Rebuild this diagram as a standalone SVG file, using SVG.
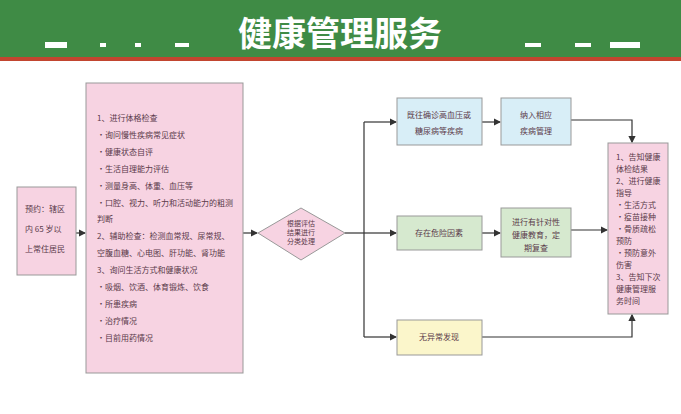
<svg xmlns="http://www.w3.org/2000/svg" width="681" height="414" viewBox="0 0 681 414">
<style>
text{font-family:"Noto Sans CJK SC","Liberation Sans",sans-serif;fill:#5a3a4a;font-size:8px}
.d{font-size:7px}
.b{stroke:#999;stroke-width:1}
.c{fill:none;stroke:#333;stroke-width:1.2}
.pink{fill:#f7d3e2}.blue{fill:#d8eef7}.green{fill:#d6e9cf}.yellow{fill:#fbf6cb}
</style>
<defs><marker id="a" markerWidth="6" markerHeight="6" refX="5" refY="3" orient="auto"><path d="M0,0 L6,3 L0,6z" fill="#333"/></marker></defs>
<rect width="681" height="414" fill="#fff"/>
<rect width="681" height="57" fill="#3f8b45"/>
<rect y="57" width="681" height="4" fill="#c2452f"/>
<text x="340" y="46" text-anchor="middle" style="fill:#fff;font-size:34px;font-weight:bold">健康管理服务</text>
<g fill="#fff"><rect x="45" y="42" width="22" height="6"/><rect x="100" y="43" width="6" height="4"/><rect x="135" y="43" width="6" height="4"/><rect x="175" y="43" width="14" height="4"/><rect x="525" y="43" width="16" height="4"/><rect x="575" y="43" width="16" height="4"/><rect x="610" y="42" width="30" height="6"/></g>
<g id="connectors">
<path class="c" d="M76,233 H85" marker-end="url(#a)"/>
<path class="c" d="M243,233 H257" marker-end="url(#a)"/>
<path class="c" d="M345,233 H364"/>
<path class="c" d="M364,122 V337"/>
<path class="c" d="M364,122 H396" marker-end="url(#a)"/>
<path class="c" d="M364,233 H396" marker-end="url(#a)"/>
<path class="c" d="M364,337 H396" marker-end="url(#a)"/>
<path class="c" d="M482,122 H500" marker-end="url(#a)"/>
<path class="c" d="M482,233 H500" marker-end="url(#a)"/>
<path class="c" d="M571,120 H632 V142" marker-end="url(#a)"/>
<path class="c" d="M571,230 H607" marker-end="url(#a)"/>
<path class="c" d="M482,337 H632 V315" marker-end="url(#a)"/>
</g>
<g id="start"><rect class="b pink" x="17" y="187" width="59" height="88"/>
<text x="25" y="212">预约：辖区</text><text x="25" y="232">内 65 岁以</text><text x="25" y="252">上常住居民</text></g>
<g id="exam"><rect class="b pink" x="86" y="83" width="157" height="290"/>
<text x="97" y="121">1、进行体格检查</text>
<text x="97" y="138">・询问慢性疾病常见症状</text>
<text x="97" y="155">・健康状态自评</text>
<text x="97" y="172">・生活自理能力评估</text>
<text x="97" y="189">・测量身高、体重、血压等</text>
<text x="97" y="206">・口腔、视力、听力和活动能力的粗测</text>
<text x="97" y="222">判断</text>
<text x="97" y="239">2、辅助检查：检测血常规、尿常规、</text>
<text x="97" y="256">空腹血糖、心电图、肝功能、肾功能</text>
<text x="97" y="273">3、询问生活方式和健康状况</text>
<text x="97" y="290">・吸烟、饮酒、体育锻炼、饮食</text>
<text x="97" y="307">・所患疾病</text>
<text x="97" y="324">・治疗情况</text>
<text x="97" y="341">・目前用药情况</text></g>
<g id="decide"><path class="b pink" d="M258,233 L301,208 L345,233 L301,260z"/>
<text class="d" x="301" y="226" text-anchor="middle">根据评估</text><text class="d" x="301" y="235" text-anchor="middle">结果进行</text><text class="d" x="301" y="244" text-anchor="middle">分类处理</text></g>
<g id="n1"><rect class="b blue" x="397" y="98" width="85" height="47"/>
<text x="439" y="118" text-anchor="middle">既往确诊高血压或</text><text x="439" y="134" text-anchor="middle">糖尿病等疾病</text></g>
<g id="n2"><rect class="b blue" x="501" y="98" width="70" height="47"/>
<text x="536" y="118" text-anchor="middle">纳入相应</text><text x="536" y="134" text-anchor="middle">疾病管理</text></g>
<g id="n3"><rect class="b green" x="397" y="216" width="85" height="34"/>
<text x="439" y="236" text-anchor="middle">存在危险因素</text></g>
<g id="n4"><rect class="b green" x="501" y="208" width="70" height="49"/>
<text x="536" y="225" text-anchor="middle">进行有针对性</text><text x="536" y="238" text-anchor="middle">健康教育，定</text><text x="536" y="251" text-anchor="middle">期复查</text></g>
<g id="n5"><rect class="b yellow" x="397" y="320" width="85" height="35"/>
<text x="439" y="340" text-anchor="middle">无异常发现</text></g>
<g id="end"><rect class="b pink" x="608" y="143" width="60" height="171"/>
<text x="616" y="160">1、告知健康</text><text x="616" y="172">体检结果</text><text x="616" y="184">2、进行健康</text><text x="616" y="196">指导</text>
<text x="616" y="208">・生活方式</text><text x="616" y="220">・疫苗接种</text><text x="616" y="232">・骨质疏松</text><text x="616" y="244">预防</text>
<text x="616" y="256">・预防意外</text><text x="616" y="268">伤害</text><text x="616" y="280">3、告知下次</text><text x="616" y="292">健康管理服</text><text x="616" y="304">务时间</text></g>
</svg>
